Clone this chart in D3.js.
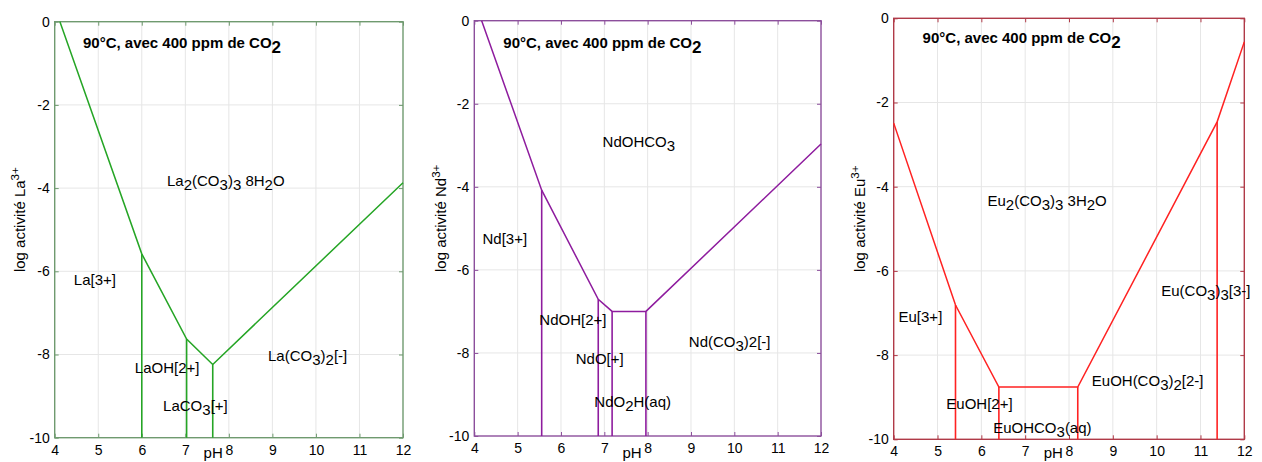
<!DOCTYPE html>
<html><head><meta charset="utf-8">
<script src="https://cdn.jsdelivr.net/npm/d3@7"></script>
<style>
body{margin:0;background:#fff}
svg text{font-family:"Liberation Sans",Arial,Helvetica,sans-serif;fill:#000}
</style>
</head><body>
<svg id="chart" width="1262" height="462"></svg>
<script>
// ---------- data ----------
const phTicks = [4, 5, 6, 7, 8, 9, 10, 11, 12];
const logTicks = [0, -2, -4, -6, -8, -10];
const titleText = "90°C, avec 400 ppm de CO_{2}";
const xLabelText = "pH";

// Lanthane
const laBoundary = [[4.12, 0], [6.0, -5.58], [7.03, -7.63], [7.63, -8.24], [12, -3.87]];
const laVerticals = [[6.0, -5.58], [7.03, -7.63], [7.63, -8.24]];
const laNames = ["La_{2}(CO_{3})_{3} 8H_{2}O", "La[3+]", "LaOH[2+]", "LaCO_{3}[+]", "La(CO_{3})_{2}[-]"];
const laNamePH = [6.58, 4.44, 5.84, 6.49, 8.90];
const laNameLog = [-3.95, -6.33, -8.44, -9.36, -8.16];

// Neodyme
const ndBoundary = [[4.17, 0], [5.555, -4.08], [6.86, -6.71], [7.18, -7.0], [7.96, -7.0], [12, -2.97]];
const ndVerticals = [[5.555, -4.08], [6.86, -6.71], [7.18, -7.0], [7.96, -7.0]];
const ndNames = ["NdOHCO_{3}", "Nd[3+]", "NdOH[2+]", "NdO[+]", "NdO_{2}H(aq)", "Nd(CO_{3})2[-]"];
const ndNamePH = [6.96, 4.19, 5.50, 6.34, 6.77, 8.95];
const ndNameLog = [-3.03, -5.37, -7.33, -8.27, -9.29, -7.86];

// Europium
const euBoundary = [[4, -2.49], [5.41, -6.81], [6.40, -8.76], [8.20, -8.76], [11.38, -2.46], [12, -0.56]];
const euVerticals = [[5.41, -6.81], [6.40, -8.76], [8.20, -8.76], [11.38, -2.46]];
const euNames = ["Eu_{2}(CO_{3})_{3} 3H_{2}O", "Eu(CO_{3})_{3}[3-]", "Eu[3+]", "EuOH(CO_{3})_{2}[2-]", "EuOH[2+]", "EuOHCO_{3}(aq)"];
const euNamePH = [6.14, 10.105, 4.11, 8.52, 5.20, 6.27];
const euNameLog = [-4.47, -6.60, -7.21, -8.73, -9.29, -9.84];

// ---------- layout / style ----------
const panels = [
  {left: 54.7, right: 403, top: 21.7, bottom: 437.7, ylab: "log activité La^{3+}", ylabX: 20,
   frame: "#6f9a6f", line: "#25a525", boundary: laBoundary, verticals: laVerticals,
   names: laNames, namePH: laNamePH, nameLog: laNameLog, titlePH: 4.65, titleLog: -0.625},
  {left: 474.3, right: 821, top: 20.7, bottom: 436, ylab: "log activité Nd^{3+}", ylabX: 441,
   frame: "#8c4f9c", line: "#8e1c9e", boundary: ndBoundary, verticals: ndVerticals,
   names: ndNames, namePH: ndNamePH, nameLog: ndNameLog, titlePH: 4.67, titleLog: -0.665},
  {left: 893.7, right: 1244.3, top: 18.3, bottom: 439.3, ylab: "log activité Eu^{3+}", ylabX: 859.5,
   frame: "#b03a48", line: "#ff2222", boundary: euBoundary, verticals: euVerticals,
   names: euNames, namePH: euNamePH, nameLog: euNameLog, titlePH: 4.66, titleLog: -0.59}
];

const svg = d3.select("#chart");

// rich text: _{..} subscript, ^{..} superscript
function richText(sel, str, opts) {
  const parts = [];
  const re = /([_^])\{([^}]*)\}/g;
  let last = 0, m;
  while ((m = re.exec(str)) !== null) {
    if (m.index > last) parts.push({t: str.slice(last, m.index), k: "n"});
    parts.push({t: m[2], k: m[1] === "_" ? "sub" : "sup"});
    last = re.lastIndex;
  }
  if (last < str.length) parts.push({t: str.slice(last), k: "n"});
  let shift = 0;
  parts.forEach(p => {
    const target = p.k === "sub" ? opts.subDy : p.k === "sup" ? opts.supDy : 0;
    const ts = sel.append("tspan").attr("dy", target - shift).text(p.t);
    if (p.k === "sub" && opts.subSize) ts.style("font-size", opts.subSize + "px");
    if (p.k === "sup" && opts.supSize) ts.style("font-size", opts.supSize + "px");
    shift = target;
  });
}

panels.forEach(p => {
  const x = d3.scaleLinear().domain([4, 12]).range([p.left, p.right]);
  const y = d3.scaleLinear().domain([-10, 0]).range([p.bottom, p.top]);
  const g = svg.append("g");

  // grid
  g.append("g").selectAll("line").data(phTicks.slice(1, -1)).join("line")
    .attr("x1", d => x(d)).attr("x2", d => x(d)).attr("y1", p.top).attr("y2", p.bottom)
    .attr("stroke", "#e6e6e6").attr("stroke-width", 1);
  g.append("g").selectAll("line").data(logTicks.slice(1, -1)).join("line")
    .attr("y1", d => y(d)).attr("y2", d => y(d)).attr("x1", p.left).attr("x2", p.right)
    .attr("stroke", "#e6e6e6").attr("stroke-width", 1);

  // axes
  const fs = "14px";
  const ax = g.append("g").attr("transform", `translate(0,${p.bottom})`)
    .call(d3.axisBottom(x).tickValues(phTicks).tickSize(-4).tickPadding(7).tickFormat(d3.format("d")));
  const ay = g.append("g").attr("transform", `translate(${p.left},0)`)
    .call(d3.axisLeft(y).tickValues(logTicks).tickSize(-4).tickPadding(5).tickFormat(d3.format("d")));
  const axT = g.append("g").attr("transform", `translate(0,${p.top})`)
    .call(d3.axisTop(x).tickValues(phTicks).tickSize(-4).tickFormat(""));
  const ayR = g.append("g").attr("transform", `translate(${p.right},0)`)
    .call(d3.axisRight(y).tickValues(logTicks).tickSize(-4).tickFormat(""));
  [ax, ay, axT, ayR].forEach(a => {
    a.select(".domain").remove();
    a.selectAll(".tick line").attr("stroke", p.frame);
    a.selectAll("text").style("font-size", fs).attr("fill", "#000")
      .style("font-family", '"Liberation Sans",Arial,sans-serif');
  });
  ay.selectAll("text").text(d => String(d).replace("\u2212", "-"));

  // frame
  g.append("rect").attr("x", p.left).attr("y", p.top)
    .attr("width", p.right - p.left).attr("height", p.bottom - p.top)
    .attr("fill", "none").attr("stroke", p.frame).attr("stroke-width", 1.4);

  // boundary lines
  const line = d3.line().x(d => x(d[0])).y(d => y(d[1]));
  g.append("path").datum(p.boundary).attr("d", line)
    .attr("fill", "none").attr("stroke", p.line).attr("stroke-width", 1.5);
  g.append("g").selectAll("line").data(p.verticals).join("line")
    .attr("x1", d => x(d[0])).attr("x2", d => x(d[0]))
    .attr("y1", d => y(d[1])).attr("y2", y(-10))
    .attr("stroke", p.line).attr("stroke-width", 1.6);

  // title
  const tt = g.append("text").attr("x", x(p.titlePH)).attr("y", y(p.titleLog))
    .style("font-size", "15px").style("font-weight", "bold");
  richText(tt, titleText, {subDy: 5, subSize: 17});

  // region labels
  p.names.forEach((n, i) => {
    const t = g.append("text").attr("x", x(p.namePH[i])).attr("y", y(p.nameLog[i]))
      .style("font-size", "15px");
    richText(t, n, {subDy: 4});
  });

  // axis labels
  g.append("text").attr("x", x(7.64)).attr("y", Math.min(p.bottom + 22, 458))
    .attr("text-anchor", "middle").style("font-size", "15px").text(xLabelText);
  const yl = g.append("text")
    .attr("transform", `translate(${p.ylabX + 5},${(p.top + p.bottom) / 2 - 10}) rotate(-90)`)
    .attr("text-anchor", "middle").style("font-size", "15px");
  richText(yl, p.ylab, {supDy: -6, supSize: 11.5});
});
</script>
</body></html>
